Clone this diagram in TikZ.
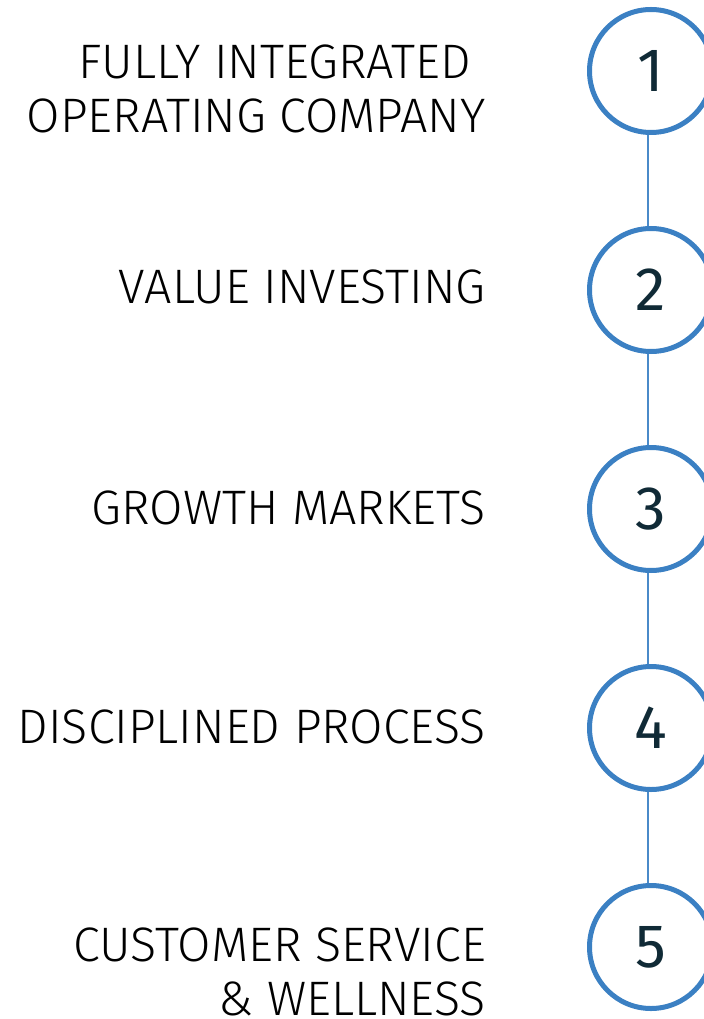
\documentclass[tikz,border=0pt]{standalone}
\usepackage{fontspec}
\setmainfont{Fira Sans}[UprightFont={* Light}]
\newfontfamily\numfont{Fira Sans}
\definecolor{ringblue}{HTML}{3B80C3}
\definecolor{linkblue}{HTML}{4A8AC9}
\definecolor{numnavy}{HTML}{102A36}

\tikzset{
  stepring/.style={circle, draw=ringblue, line width=3.75pt, minimum size=92.25pt,
    inner sep=0pt, text=numnavy, font=\numfont\fontsize{46}{46}\selectfont},
  steplabel/.style={anchor=base east, align=right, inner sep=0pt,
    font=\fontsize{36.3}{40.5}\selectfont},
  link/.style={draw=linkblue, line width=1.5pt}
}

\begin{document}
\begin{tikzpicture}[x=0.75pt,y=-0.75pt]
  %%%%% START %%%%%
  \useasboundingbox (0,0) rectangle (703,1019);

  % numbered rings down the right side
  \node[stepring] (c1) at (651,71) {1};
  \node[stepring] (c2) at (651,290) {2};
  \node[stepring] (c3) at (651,509) {3};
  \node[stepring] (c4) at (651,728) {4};
  \node[stepring] (c5) at (651,947) {5};

  % thin links between the rings
  \draw[link] ([xshift=-2.25pt]c1.south) -- ([xshift=-2.25pt]c2.north);
  \draw[link] ([xshift=-2.25pt]c2.south) -- ([xshift=-2.25pt]c3.north);
  \draw[link] ([xshift=-2.25pt]c3.south) -- ([xshift=-2.25pt]c4.north);
  \draw[link] ([xshift=-2.25pt]c4.south) -- ([xshift=-2.25pt]c5.north);

  % labels, right aligned (base is the last line)
  \node[steplabel] (t1) at (486,133) {FULLY INTEGRATED\hspace*{0.3em}\\OPERATING COMPANY};
  \node[steplabel] (t2) at (486,304) {VALUE INVESTING};
  \node[steplabel] (t3) at (486,524) {GROWTH MARKETS};
  \node[steplabel] (t4) at (486,743) {DISCIPLINED PROCESS};
  \node[steplabel] (t5) at (486,1015) {CUSTOMER SERVICE\\\&~WELLNESS};
  %%%%% END %%%%%
\end{tikzpicture}
\end{document}
